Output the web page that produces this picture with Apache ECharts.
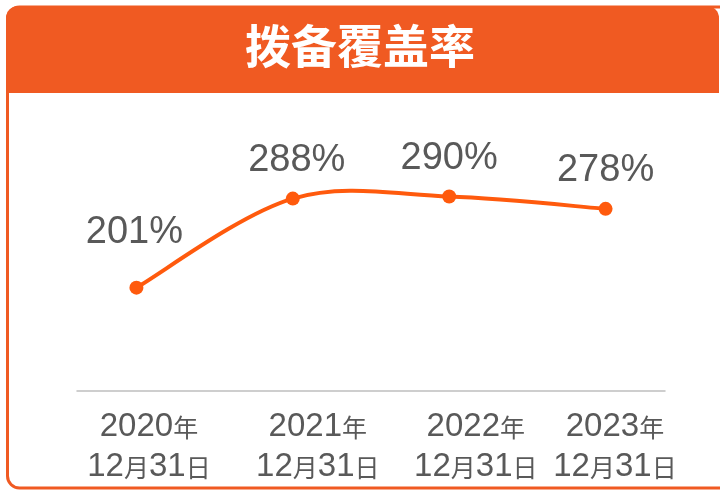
<!DOCTYPE html>
<html>
<head>
<meta charset="utf-8">
<script src="https://cdn.jsdelivr.net/npm/echarts@6/dist/echarts.min.js"></script>
<style>
  html, body { margin: 0; padding: 0; background: #fff; }
  #main { width: 720px; height: 490px; }
</style>
</head>
<body>
<div id="main"></div>
<script>
  // data
  var years = ['2020', '2021', '2022', '2023']
  var dates = ['12月31日', '12月31日', '12月31日', '12月31日']
  var ratio = [201, 288, 290, 278]

  var orange = '#F05A22'
  var lineColor = '#FF5A0D'
  var textGray = '#595959'

  // the labels under the axis sit a little right of each point
  var labelShift = [0.08, 0.16, 0.17, 0.06]

  var chart = echarts.init(document.getElementById('main'))

  // excel-like smoothed curve (catmull-rom) through the points, using the chart's own coords
  function renderCurve (params, api) {
    if (params.dataIndex !== 0) return
    var pts = ratio.map(function (v, i) { return api.coord([i, v]) })
    var d = []
    for (var i = 0; i < pts.length - 1; i++) {
      var p0 = pts[Math.max(i - 1, 0)]
      var p1 = pts[i]
      var p2 = pts[i + 1]
      var p3 = pts[Math.min(i + 2, pts.length - 1)]
      var c1 = [p1[0] + (p2[0] - p0[0]) / 6, p1[1] + (p2[1] - p0[1]) / 6]
      var c2 = [p2[0] - (p3[0] - p1[0]) / 6, p2[1] - (p3[1] - p1[1]) / 6]
      if (i === 0) d.push('M' + p1[0] + ' ' + p1[1])
      d.push('C' + c1.join(' ') + ' ' + c2.join(' ') + ' ' + p2.join(' '))
    }
    return {
      type: 'path',
      shape: { pathData: d.join(' ') },
      style: { fill: 'none', stroke: lineColor, lineWidth: 4, lineCap: 'round' }
    }
  }

  chart.setOption({
    animation: false,
    graphic: [
      {
        type: 'rect',
        shape: { x: 7.5, y: 7, width: 740, height: 481, r: 12 },
        style: { fill: '#fff', stroke: orange, lineWidth: 3 },
        z: -10
      },
      {
        type: 'rect',
        shape: { x: 6, y: 6, width: 713, height: 87, r: [12, 12, 0, 0] },
        style: { fill: orange },
        z: -9
      },
      {
        type: 'text',
        left: 'center',
        top: 23,
        style: {
          text: '拨备覆盖率',
          fill: '#fff',
          font: 'bold 46px "Noto Sans CJK SC"'
        }
      }
    ],
    grid: { left: 77, right: 55, top: 84, bottom: 99 },
    xAxis: {
      type: 'value',
      min: -0.38,
      max: 3.38,
      splitLine: { show: false },
      axisTick: { show: false },
      axisLine: { show: true, onZero: false, lineStyle: { color: '#BFBFBF', width: 1.5 } },
      axisLabel: {
        customValues: years.map(function (y, i) { return i + labelShift[i] }),
        margin: 16,
        formatter: function (v) {
          var i = Math.round(v)
          var d = dates[i].match(/(\d+)(月)(\d+)(日)/)
          return '{d|' + years[i] + '}{c|年}\n{d|' + d[1] + '}{c|' + d[2] + '}{d|' + d[3] + '}{c|' + d[4] + '}'
        },
        rich: {
          d: { fontFamily: 'Liberation Sans', fontSize: 33, color: textGray, lineHeight: 40 },
          c: { fontFamily: 'Noto Sans CJK SC', fontSize: 25, color: textGray, lineHeight: 40 }
        }
      }
    },
    yAxis: {
      type: 'value',
      min: 100,
      max: 400,
      show: false,
      splitLine: { show: false }
    },
    series: [
      {
        type: 'custom',
        renderItem: renderCurve,
        data: ratio.map(function (v, i) { return [i, v] }),
        z: 1
      },
      {
        type: 'line',
        symbol: 'circle',
        symbolSize: 14,
        lineStyle: { width: 0 },
        itemStyle: { color: lineColor },
        z: 2,
        label: {
          show: true,
          position: 'top',
          distance: 12,
          fontFamily: 'Liberation Sans',
          fontSize: 38,
          color: textGray,
          formatter: function (p) { return p.value[1] + '%' }
        },
        data: ratio.map(function (v, i) {
          var item = { value: [i, v] }
          if (i === 0) item.label = { offset: [-2, -17] }
          if (i === 1) item.label = { offset: [4, 0] }
          return item
        })
      }
    ]
  })
</script>
</body>
</html>
